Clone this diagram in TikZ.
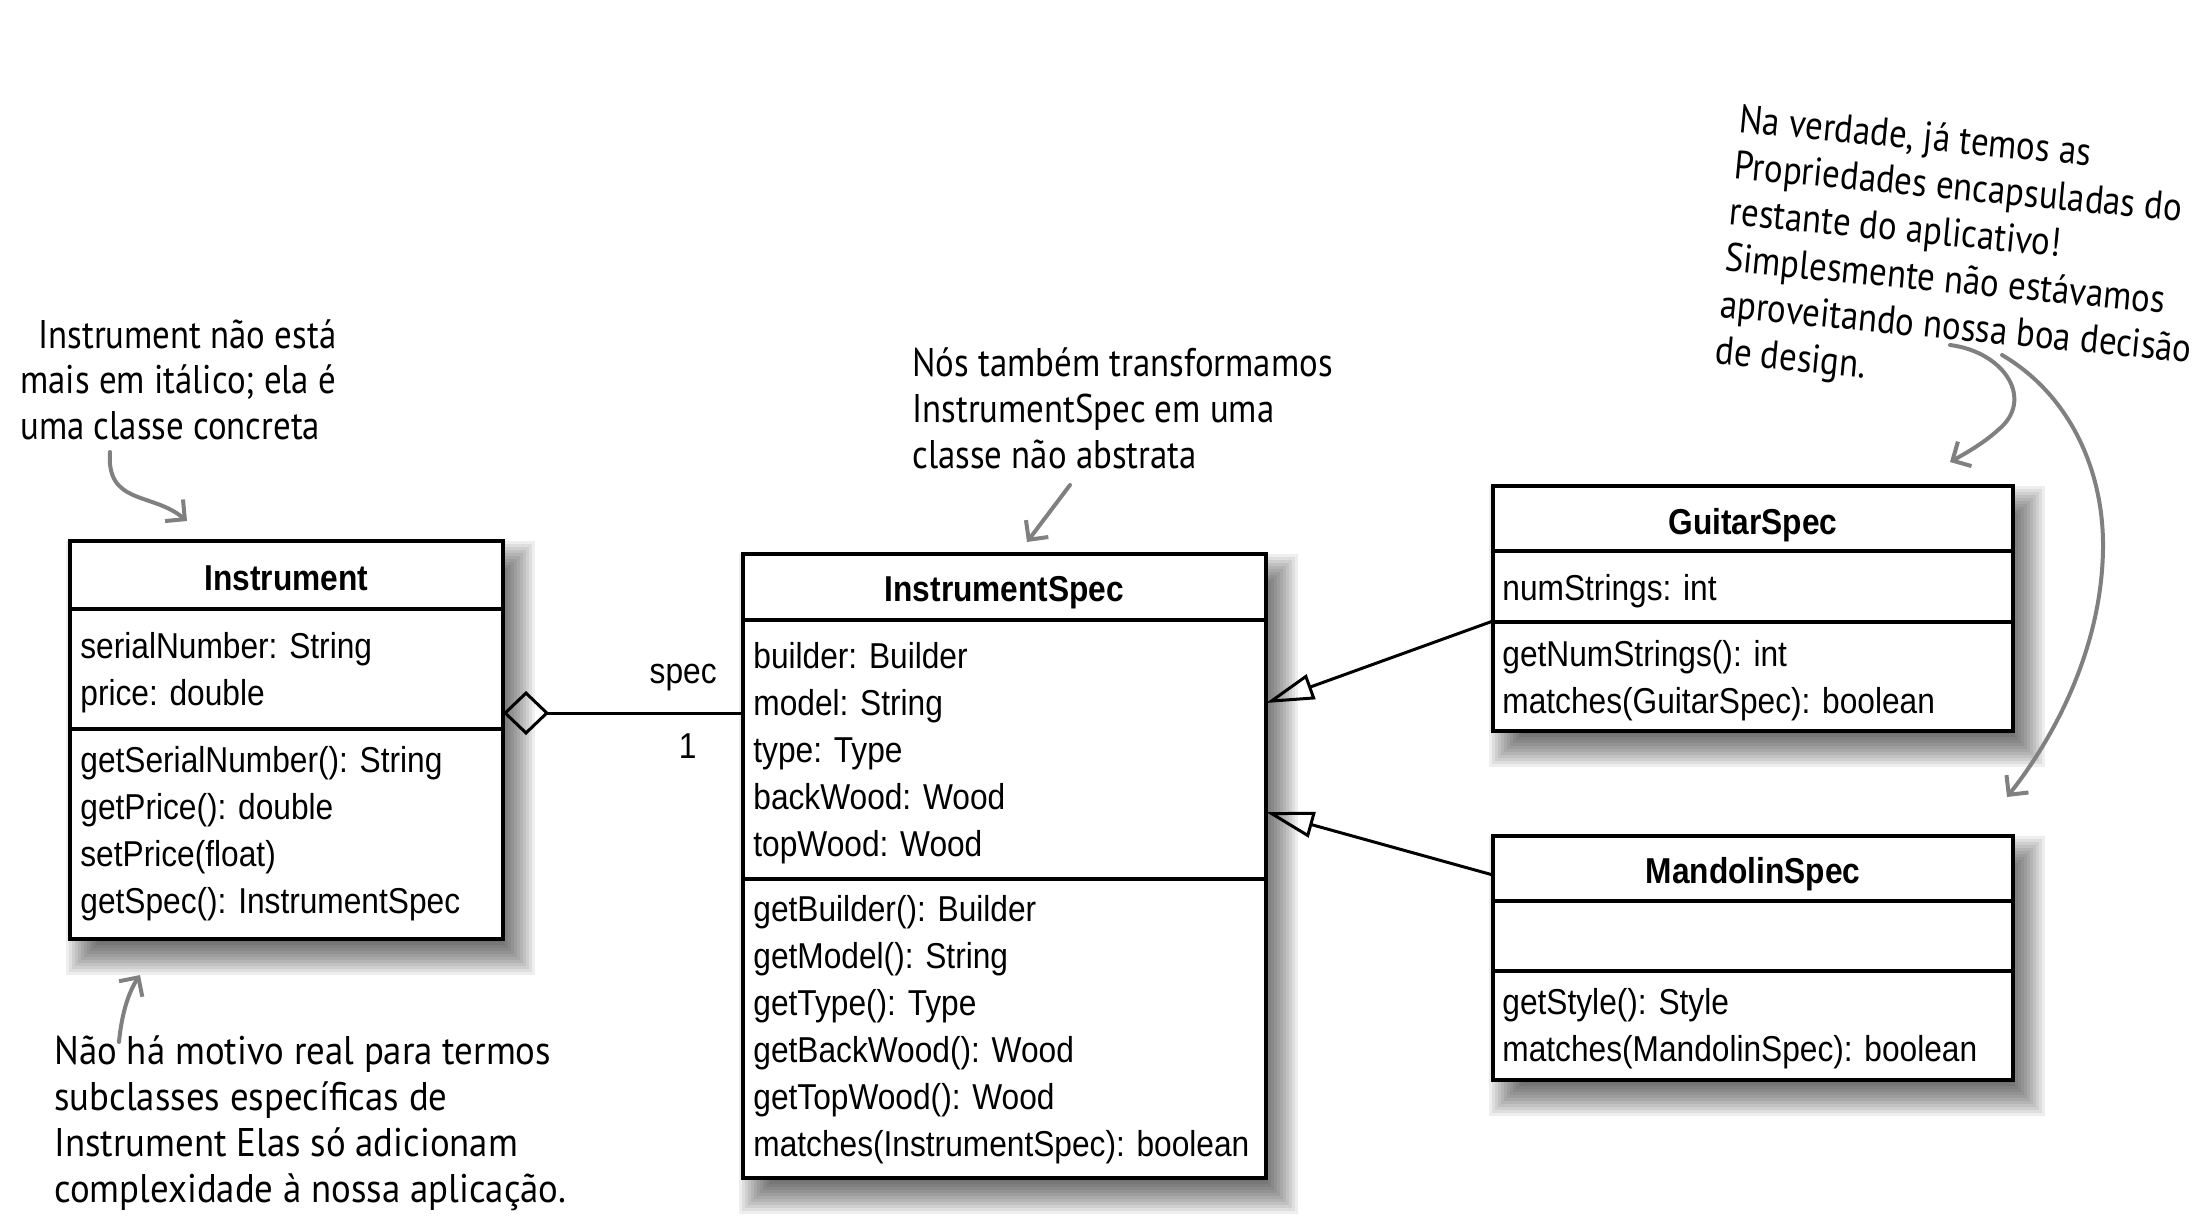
\documentclass[tikz,border=0pt]{standalone}
\usepackage{fontspec}
\setmainfont{Liberation Sans}
\newfontfamily\umlfont[FakeStretch=0.88]{Liberation Sans}
\newfontfamily\handfont[FakeStretch=0.87]{PT Sans}
\newfontfamily\handfontw[FakeStretch=0.92]{PT Sans}
\usetikzlibrary{arrows.meta,fit}

\newcommand\boxshadow[4]{%
  \foreach \s in {0,3,...,36}{%
    \fill[black,opacity=0.065] ({#1+32-\s},{#2+36-\s}) rectangle ({#3-4+\s},{#4+\s});
  }}
\newcommand\umlrows[4]{%
  \foreach \t [count=\k] in {#4}{%
    \node[rowtext] (#1\k) at (#2,{#3+47*(\k-1)}) {\t};
  }}
\newcommand\notelines[6]{% name, x, y, dx, dy, lines
  \foreach \t [count=\k] in {#6}{%
    \node[note] (#1\k) at ({#2+#4*(\k-1)},{#3+#5*(\k-1)}) {\t};
  }}

\begin{document}
\begin{tikzpicture}[x=0.5pt,y=-0.5pt,
  boxline/.style={line width=1.6pt},
  classbox/.style={draw, line width=1.75pt, fill=white, inner sep=0pt, outer sep=0pt, fit={#1}},
  rowtext/.style={anchor=base west, inner sep=0pt, font=\umlfont\fontsize{18}{21}\selectfont},
  titletext/.style={anchor=base, inner sep=0pt, font=\umlfont\fontsize{18}{21}\selectfont\bfseries},
  note/.style={anchor=base west, inner sep=0pt, font=\handfont\fontsize{20}{22}\selectfont},
  notew/.style={note, font=\handfontw\fontsize{20}{22}\selectfont},
  notearrow/.style={draw=gray, line width=2pt, line cap=round, line join=round,
    -{Straight Barb[length=7pt,width=14pt]}},
  gen/.style={line width=1.5pt, -{Triangle[open,length=24pt,width=13pt]}},
  agg/.style={line width=1.5pt, {Diamond[open,length=23pt,width=22pt]}-},
]
\useasboundingbox (0,0) rectangle (2210,1221);

% shadows
\boxshadow{70}{541}{503}{939}
\boxshadow{743}{554}{1266}{1178}
\boxshadow{1493}{486}{2013}{731}
\boxshadow{1493}{836}{2013}{1080}

% Instrument
\node[classbox={(70,541) (503,939)}] (inst) {};
\draw[boxline] (70,609) -- (503,609);
\draw[boxline] (70,729) -- (503,729);
\node[titletext] (instT) at (286.5,590) {Instrument};
\umlrows{instA}{80}{658}{serialNumber: String, price: double}
\umlrows{instM}{80}{772}{getSerialNumber(): String, getPrice(): double, setPrice(float), getSpec(): InstrumentSpec}

% InstrumentSpec
\node[classbox={(743,554) (1266,1178)}] (ispec) {};
\draw[boxline] (743,620) -- (1266,620);
\draw[boxline] (743,879) -- (1266,879);
\node[titletext] (ispecT) at (1004.5,601) {InstrumentSpec};
\umlrows{ispecA}{753}{668}{builder: Builder, model: String, type: Type, backWood: Wood, topWood: Wood}
\umlrows{ispecM}{753}{921}{getBuilder(): Builder, getModel(): String, getType(): Type, getBackWood(): Wood, getTopWood(): Wood, matches(InstrumentSpec): boolean}

% GuitarSpec
\node[classbox={(1493,486) (2013,731)}] (gs) {};
\draw[boxline] (1493,551) -- (2013,551);
\draw[boxline] (1493,622) -- (2013,622);
\node[titletext] (gsT) at (1753,534) {GuitarSpec};
\umlrows{gsA}{1502}{600}{numStrings: int}
\umlrows{gsM}{1502}{666}{getNumStrings(): int, matches(GuitarSpec): boolean}

% MandolinSpec
\node[classbox={(1493,836) (2013,1080)}] (ms) {};
\draw[boxline] (1493,901) -- (2013,901);
\draw[boxline] (1493,971) -- (2013,971);
\node[titletext] (msT) at (1753,883) {MandolinSpec};
\umlrows{msM}{1502}{1014}{getStyle(): Style, matches(MandolinSpec): boolean}

% connectors
\coordinate (aggY) at (0,713);
\draw[agg] (inst.east |- aggY) -- (ispec.west |- aggY);
\node[rowtext, anchor=base east] (lspec) at (717,683) {spec};
\node[rowtext, anchor=base east] (lone) at (697,758) {1};

\coordinate (g1a) at (0,621);
\coordinate (g1b) at (0,703);
\coordinate (g2a) at (0,875);
\coordinate (g2b) at (0,812);
\draw[gen] (gs.west |- g1a) -- (ispec.east |- g1b);
\draw[gen] (ms.west |- g2a) -- (ispec.east |- g2b);

% annotations
\node[note] (n1a) at (38,348) {Instrument não está};
\node[note] (n1b) at (20,393) {mais em itálico; ela é};
\node[note] (n1c) at (20,439) {uma classe concreta};
\coordinate (a1s) at (110,452);
\coordinate (a1e) at (187,521);
\draw[notearrow] (a1s) .. controls (106,505) and (152,492) .. (a1e);

\notelines{n2}{912}{376}{0}{46}{Nós também transformamos, InstrumentSpec em uma, classe não abstrata}
\coordinate (a2s) at (1070,485);
\coordinate (a2e) at (1027,542);
\draw[notearrow] (a2s) -- (a2e);

\begin{scope}
\tikzset{note/.append style={rotate=-5.5}}
\notelines{n3}{1738}{132}{-4.8}{46.3}{{Na verdade, já temos as}, {Propriedades encapsuladas do}, {restante do aplicativo!}, {Simplesmente não estávamos}, {aproveitando nossa boa decisão}, {de design.}}
\end{scope}
\coordinate (a3s) at (1950,345);
\coordinate (a3e) at (1950,462);
\draw[notearrow] (a3s) .. controls (2005,352) and (2035,400) .. (1998,430) .. controls (1985,442) and (1968,452) .. (a3e);
\coordinate (a4s) at (2002,355);
\coordinate (a4e) at (2007,797);
\draw[notearrow] (a4s) .. controls (2070,395) and (2103,470) .. (2103,545) .. controls (2103,640) and (2060,730) .. (a4e);

\begin{scope}
\tikzset{note/.style={notew}}
\end{scope}
\node[notew] (n4a) at (54,1064) {Não há motivo real para termos};
\node[notew] (n4b) at (54,1110) {subclasses específicas de};
\node[notew] (n4c) at (54,1156) {Instrument Elas só adicionam};
\node[notew] (n4d) at (54,1202) {complexidade à nossa aplicação.};
\coordinate (a5s) at (119,1042);
\coordinate (a5e) at (140,975);
\draw[notearrow] (a5s) .. controls (122,1010) and (130,990) .. (a5e);
\end{tikzpicture}
\end{document}
